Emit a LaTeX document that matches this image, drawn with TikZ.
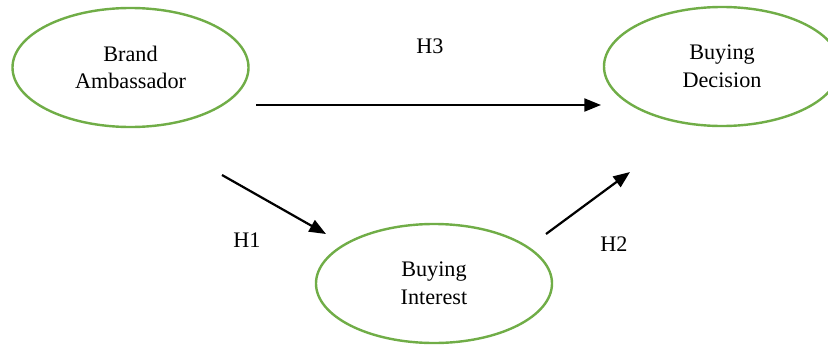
\documentclass[tikz,border=0pt]{standalone}
\usepackage{fontspec}
\setmainfont{Liberation Serif}
\usepackage{tikz}
\usepackage{xcolor}
\usetikzlibrary{shapes,arrows.meta,positioning}

\definecolor{ovalgreen}{RGB}{112,173,71}

\begin{document}
\begin{tikzpicture}[
    x=0.019cm, y=-0.019cm,
    construct/.style={ellipse, draw=ovalgreen, line width=1.3pt, minimum width=236*0.019cm, minimum height=119*0.019cm, inner sep=0pt, align=center, font=\fontsize{12pt}{15pt}\selectfont},
    arrow/.style={-{Triangle[length=9pt, width=7pt]}, line width=1.2pt, black},
    hyp/.style={font=\fontsize{12pt}{15pt}\selectfont}
]
\useasboundingbox (0,0) rectangle (828,345);
\clip (0,0) rectangle (828,345);

% Constructs
\node[construct] (ambassador) at (130.5,67.5) {Brand\\Ambassador};
\node[construct] (decision) at (722,66.5) {Buying\\Decision};
\node[construct] (interest) at (434,283.5) {Buying\\Interest};

% Arrow ends
\coordinate (h3-start) at (256,105);
\coordinate (h3-end) at (601,105);
\coordinate (h1-start) at (222,175);
\coordinate (h1-end) at (326,234);
\coordinate (h2-start) at (546,234);
\coordinate (h2-end) at (630,172);

% Hypotheses
\draw[arrow] (h3-start) -- (h3-end);
\draw[arrow] (h1-start) -- (h1-end);
\draw[arrow] (h2-start) -- (h2-end);

\node[hyp] (h3) at (430,46) {H3};
\node[hyp] (h1) at (247,240) {H1};
\node[hyp] (h2) at (614,244) {H2};

\end{tikzpicture}
\end{document}
